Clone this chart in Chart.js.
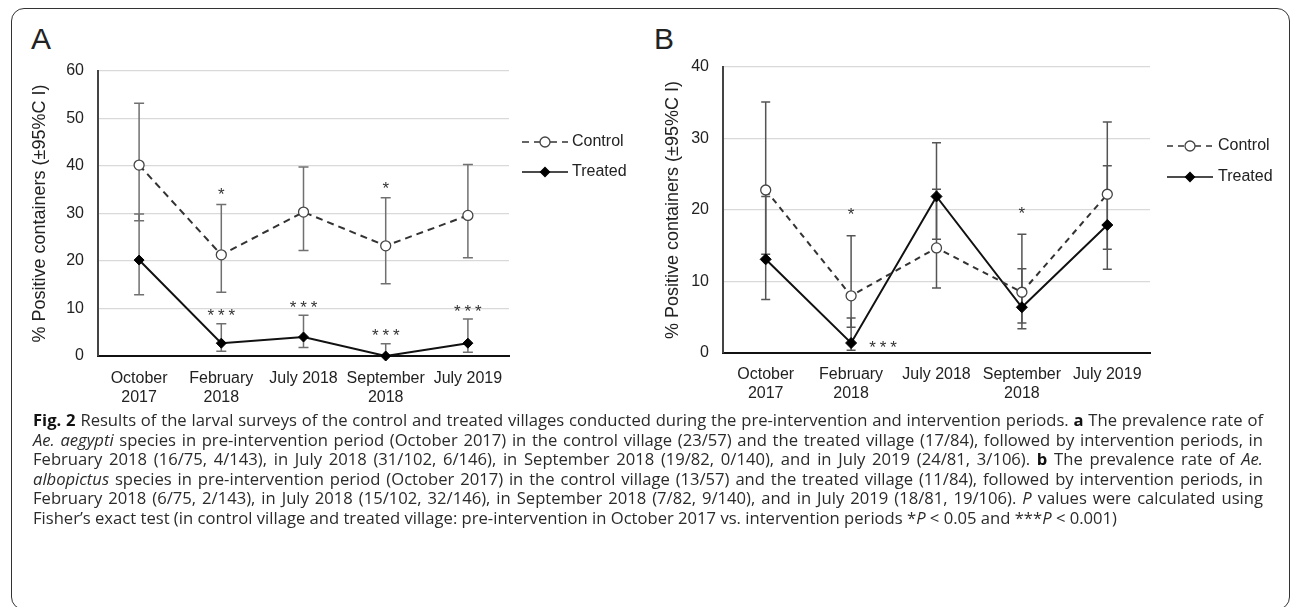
<!DOCTYPE html>
<html>
<head>
<meta charset="utf-8">
<script src="https://cdn.jsdelivr.net/npm/chart.js@4.4.1/dist/chart.umd.min.js"></script>
<style>
  html, body { margin: 0; padding: 0; background: #fff; }
  body { width: 1292px; height: 607px; position: relative; overflow: hidden; font-family: "Liberation Sans", Arial, sans-serif; }
  #frame { position: absolute; left: 11px; top: 8px; width: 1279px; height: 602px; box-sizing: border-box;
           border: 1.5px solid #333; border-radius: 13px; }
  canvas { position: absolute; top: 0; }
  #chartA { left: 0; }
  #chartB { left: 650px; }
  .panel { position: absolute; top: 24px; font-size: 30px; line-height: 30px; color: #222; }
  #caption { position: absolute; left: 33px; top: 410px; width: 1230px; color: #2b2b2b;
             font-family: "Open Sans", "Noto Sans", sans-serif; font-size: 15px; }
  .ln { height: 19.6px; line-height: 19.6px; white-space: nowrap; text-align: left; }
  #caption.just .ln { text-align: justify; text-align-last: justify; }
  #caption.just .ln.last { text-align-last: left; }
  .ln b { color: #111; }
</style>
</head>
<body>
<div id="frame"></div>
<div class="panel" style="left:31px">A</div>
<div class="panel" style="left:654px">B</div>
<canvas id="chartA" width="650" height="420"></canvas>
<canvas id="chartB" width="642" height="420"></canvas>
<div id="caption">
  <div class="ln"><span><b>Fig. 2</b> Results of the larval surveys of the control and treated villages conducted during the pre-intervention and intervention periods. <b>a</b> The prevalence rate of</span></div>
  <div class="ln"><span><i>Ae. aegypti</i> species in pre-intervention period (October 2017) in the control village (23/57) and the treated village (17/84), followed by intervention periods, in</span></div>
  <div class="ln"><span>February 2018 (16/75, 4/143), in July 2018 (31/102, 6/146), in September 2018 (19/82, 0/140), and in July 2019 (24/81, 3/106). <b>b</b> The prevalence rate of <i>Ae.</i></span></div>
  <div class="ln"><span><i>albopictus</i> species in pre-intervention period (October 2017) in the control village (13/57) and the treated village (11/84), followed by intervention periods, in</span></div>
  <div class="ln"><span>February 2018 (6/75, 2/143), in July 2018 (15/102, 32/146), in September 2018 (7/82, 9/140), and in July 2019 (18/81, 19/106). <i>P</i> values were calculated using</span></div>
  <div class="ln last"><span>Fisher’s exact test (in control village and treated village: pre-intervention in October 2017 vs. intervention periods *<i>P</i> &lt; 0.05 and ***<i>P</i> &lt; 0.001)</span></div>
</div>
<script>
// survey rounds
var categories = [['October', '2017'], ['February', '2018'], 'July 2018', ['September', '2018'], 'July 2019'];
var yTitle = '% Positive containers (±95%C I)';

// A - Ae. aegypti, % positive containers with 95% CI
var aControl     = [40.2, 21.3, 30.3, 23.2, 29.6];
var aControlLow  = [28.5, 13.4, 22.2, 15.2, 20.7];
var aControlHigh = [53.2, 31.9, 39.8, 33.3, 40.3];
var aTreated     = [20.2, 2.7, 4.0, 0, 2.7];
var aTreatedLow  = [12.9, 1.0, 1.8, 0, 0.8];
var aTreatedHigh = [29.9, 6.8, 8.6, 2.6, 7.8];
var aControlStars = ['', '*', '', '*', ''];
var aTreatedStars = ['', '***', '***', '***', '***'];
var aYMax = 60;

// B - Ae. albopictus
var bControl     = [22.8, 8.0, 14.7, 8.5, 22.2];
var bControlLow  = [13.8, 3.6, 9.1, 4.2, 14.5];
var bControlHigh = [35.1, 16.4, 22.9, 16.6, 32.3];
var bTreated     = [13.1, 1.4, 21.9, 6.4, 17.9];
var bTreatedLow  = [7.5, 0.4, 15.9, 3.4, 11.7];
var bTreatedHigh = [21.9, 4.9, 29.4, 11.8, 26.2];
var bControlStars = ['', '*', '', '*', ''];
var bTreatedStars = ['', '***', '', '', ''];
var bYMax = 40;

var yStep = 10;

// caption: size the font so the unjustified last line is as long as in the figure,
// then justify the others (squeeze any line that would overflow)
(function fitCaption() {
    var cap = document.getElementById('caption');
    var spans = cap.querySelectorAll('.ln > span');
    var lastW = spans[spans.length - 1].getBoundingClientRect().width;
    cap.style.fontSize = (15 * 1085 / lastW) + 'px';
    spans.forEach(function(sp) {
        var w = sp.getBoundingClientRect().width;
        if (w > 1228) sp.parentNode.style.letterSpacing = ((1228 - w) / sp.textContent.length) + 'px';
    });
    cap.classList.add('just');
})();

Chart.defaults.font.family = '"Liberation Sans", Arial, sans-serif';

// vertical CI bars with caps
var errorBars = {
    id: 'errorBars',
    beforeDatasetsDraw: function(chart) {
        var ctx = chart.ctx, y = chart.scales.y;
        chart.data.datasets.forEach(function(ds, i) {
            var meta = chart.getDatasetMeta(i);
            ctx.save();
            ctx.strokeStyle = ds.errColor;
            ctx.lineWidth = 1.5;
            meta.data.forEach(function(pt, j) {
                var lo = y.getPixelForValue(ds.low[j]), hi = y.getPixelForValue(ds.high[j]);
                var w = ds.capHalf;
                ctx.beginPath();
                ctx.moveTo(pt.x, lo); ctx.lineTo(pt.x, hi);
                ctx.moveTo(pt.x - w, lo); ctx.lineTo(pt.x + w, lo);
                ctx.moveTo(pt.x - w, hi); ctx.lineTo(pt.x + w, hi);
                ctx.stroke();
            });
            ctx.restore();
        });
    }
};

// significance asterisks
var starMarks = {
    id: 'starMarks',
    afterDatasetsDraw: function(chart) {
        var ctx = chart.ctx, y = chart.scales.y;
        chart.data.datasets.forEach(function(ds, i) {
            var meta = chart.getDatasetMeta(i);
            ctx.save();
            ctx.fillStyle = '#333';
            ctx.font = '17px "Liberation Sans", Arial, sans-serif';
            ctx.textAlign = 'center';
            ctx.textBaseline = 'alphabetic';
            meta.data.forEach(function(pt, j) {
                var s = ds.stars[j];
                if (!s) return;
                var cx, cy;
                if (ds.starPlace.mode === 'right') {
                    cx = pt.x + ds.starPlace.gap;
                    cy = pt.y;
                } else {
                    cx = pt.x;
                    cy = y.getPixelForValue(ds.high[j]) - ds.starPlace.gap;
                }
                var step = 10.5;
                for (var k = 0; k < s.length; k++) {
                    ctx.fillText(s[k], cx + (k - (s.length - 1) / 2) * step, cy + 9.7);
                }
            });
            ctx.restore();
        });
    }
};

// legend at the right of the plot: line sample with marker, then label
var sideLegend = {
    id: 'sideLegend',
    afterDraw: function(chart, args, opts) {
        var ctx = chart.ctx;
        var x0 = chart.chartArea.right + opts.dx;
        chart.data.datasets.forEach(function(ds, i) {
            var yy = opts.rows[i];
            ctx.save();
            ctx.strokeStyle = ds.borderColor;
            ctx.lineWidth = 1.6;
            ctx.setLineDash(ds.borderDash || []);
            ctx.beginPath();
            ctx.moveTo(x0, yy); ctx.lineTo(x0 + 18, yy);
            ctx.moveTo(x0 + 28, yy); ctx.lineTo(x0 + 46, yy);
            if (!ds.borderDash) { ctx.moveTo(x0 + 18, yy); ctx.lineTo(x0 + 28, yy); }
            ctx.stroke();
            ctx.setLineDash([]);
            var cx = x0 + 23;
            ctx.beginPath();
            if (ds.pointStyle === 'circle') {
                ctx.arc(cx, yy, 5, 0, Math.PI * 2);
            } else {
                ctx.moveTo(cx - 4.5, yy); ctx.lineTo(cx, yy - 4.5); ctx.lineTo(cx + 4.5, yy); ctx.lineTo(cx, yy + 4.5); ctx.closePath();
            }
            ctx.fillStyle = ds.pointBackgroundColor;
            ctx.fill();
            ctx.lineWidth = 1.3;
            ctx.strokeStyle = ds.pointBorderColor;
            ctx.stroke();
            ctx.fillStyle = '#222';
            ctx.font = '16px "Liberation Sans", Arial, sans-serif';
            ctx.textBaseline = 'middle';
            ctx.fillText(ds.label, x0 + opts.textDx, yy);
            ctx.restore();
        });
    }
};

function makeChart(id, cfg) {
    return new Chart(document.getElementById(id), {
        type: 'line',
        data: {
            labels: categories,
            datasets: [{
                label: 'Control',
                data: cfg.control, low: cfg.controlLow, high: cfg.controlHigh, stars: cfg.controlStars,
                starPlace: cfg.controlStarPlace,
                errColor: cfg.errColor, capHalf: cfg.capHalf,
                borderColor: '#333', borderWidth: 2, borderDash: cfg.dash,
                pointStyle: 'circle', pointRadius: 5, pointBackgroundColor: '#fff',
                pointBorderColor: '#444', pointBorderWidth: 1.3,
                tension: 0, clip: false
            }, {
                label: 'Treated',
                data: cfg.treated, low: cfg.treatedLow, high: cfg.treatedHigh, stars: cfg.treatedStars,
                starPlace: cfg.treatedStarPlace,
                errColor: cfg.errColor, capHalf: cfg.capHalf,
                borderColor: '#111', borderWidth: 2,
                pointStyle: 'rectRot', pointRadius: cfg.diamond, pointBackgroundColor: '#000',
                pointBorderColor: '#000', pointBorderWidth: 1,
                tension: 0, clip: false
            }]
        },
        options: {
            responsive: false,
            animation: false,
            layout: { autoPadding: false, padding: { left: 0, top: cfg.top, right: cfg.right, bottom: 0 } },
            plugins: {
                legend: { display: false },
                tooltip: { enabled: false },
                sideLegend: cfg.legend
            },
            scales: {
                x: {
                    offset: true,
                    grid: { display: false, drawTicks: false },
                    border: { color: '#111', width: 2 },
                    ticks: { color: '#222', font: { size: 16 }, padding: cfg.xPad, maxRotation: 0, autoSkip: false },
                    afterFit: function(s) { s.height = cfg.xHeight; }
                },
                y: {
                    min: 0, max: cfg.yMax,
                    ticks: { stepSize: yStep, padding: 14, color: '#222', font: { size: 16 } },
                    grid: {
                        drawTicks: false, lineWidth: 1.3,
                        color: function(c) { return c.tick && c.tick.value === 0 ? 'rgba(0,0,0,0)' : '#d9d9d9'; }
                    },
                    border: { color: '#444', width: 2 },
                    title: { display: true, text: yTitle, color: '#222', font: { size: 18 }, padding: { top: cfg.titlePad, bottom: 0 } },
                    afterFit: function(s) { s.width = cfg.yWidth; }
                }
            }
        },
        plugins: [errorBars, starMarks, sideLegend]
    });
}

makeChart('chartA', {
    control: aControl, controlLow: aControlLow, controlHigh: aControlHigh, controlStars: aControlStars,
    treated: aTreated, treatedLow: aTreatedLow, treatedHigh: aTreatedHigh, treatedStars: aTreatedStars,
    controlStarPlace: { mode: 'above', gap: 14 },
    treatedStarPlace: { mode: 'above', gap: 12 },
    yMax: aYMax, errColor: '#707070', capHalf: 5, dash: [7, 5], diamond: 5,
    top: 71, right: 141, xHeight: 64, xPad: 13, yWidth: 98, titlePad: 29,
    legend: { dx: 13, textDx: 50, rows: [142, 172] }
});

makeChart('chartB', {
    control: bControl, controlLow: bControlLow, controlHigh: bControlHigh, controlStars: bControlStars,
    treated: bTreated, treatedLow: bTreatedLow, treatedHigh: bTreatedHigh, treatedStars: bTreatedStars,
    controlStarPlace: { mode: 'above', gap: 25 },
    treatedStarPlace: { mode: 'right', gap: 32 },
    yMax: bYMax, errColor: '#555', capHalf: 4.5, dash: [6, 5], diamond: 5.5,
    top: 67, right: 142, xHeight: 67, xPad: 12, yWidth: 73, titlePad: 12,
    legend: { dx: 17, textDx: 51, rows: [146, 177] }
});
</script>
</body>
</html>
